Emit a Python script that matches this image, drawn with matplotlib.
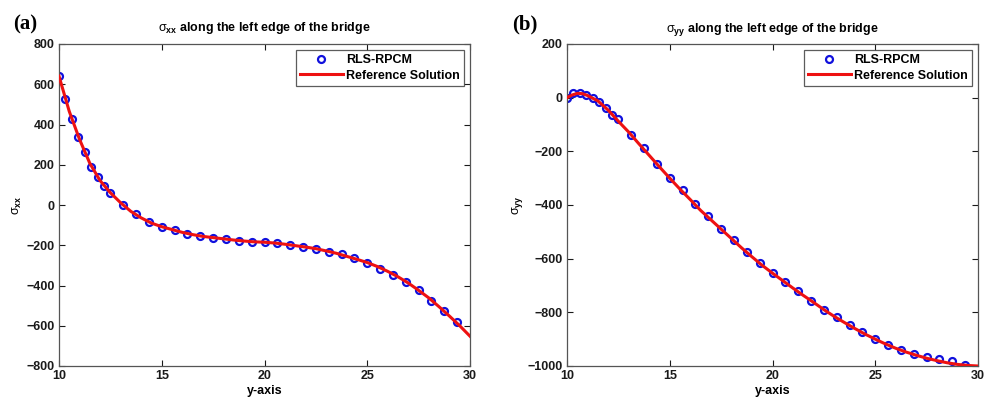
import matplotlib
matplotlib.use("Agg")
import matplotlib.pyplot as plt

plt.rcParams['font.family'] = ['Liberation Sans', 'DejaVu Sans']
plt.rcParams['mathtext.fontset'] = 'custom'
plt.rcParams['mathtext.rm'] = 'Liberation Sans'
plt.rcParams['mathtext.bf'] = 'Liberation Sans:bold'
plt.rcParams['mathtext.it'] = 'Liberation Sans:italic'

# ---- data: panel (a) sigma_xx ----
xa_pts = [10.0, 10.3125, 10.625, 10.9375, 11.25, 11.5625, 11.875, 12.1875, 12.5,
          13.125, 13.75, 14.375, 15.0, 15.625, 16.25, 16.875, 17.5, 18.125, 18.75,
          19.375, 20.0, 20.625, 21.25, 21.875, 22.5, 23.125, 23.75, 24.375, 25.0,
          25.625, 26.25, 26.875, 27.5, 28.125, 28.75, 29.375]
sxx_pts = [639, 528, 425, 339, 261, 191, 138, 94, 61,
           0, -46, -82, -108, -126, -142, -152, -162, -170, -178,
           -182, -185, -190, -200, -208, -217, -232, -245, -265, -286,
           -316, -346, -382, -424, -475, -528, -581]
xa_ref = [10, 10.5, 11, 11.5, 12, 12.5, 13, 13.5, 14, 14.5, 15, 15.5, 16, 16.5,
          17, 17.5, 18, 18.5, 19, 19.5, 20, 20.5, 21, 21.5, 22, 22.5, 23, 23.5,
          24, 24.5, 25, 25.5, 26, 26.5, 27, 27.5, 28, 28.5, 29, 29.5, 30]
sxx_ref = [640, 465, 326, 207, 121, 61, 11, -32, -64, -90, -108, -122, -136, -147,
           -156, -162, -168, -174, -179, -183, -185, -189, -195, -202, -209, -217, -228, -240,
           -255, -270, -286, -306, -330, -357, -388, -424, -462, -506, -552, -600, -652]

# ---- data: panel (b) sigma_yy ----
xb_pts = xa_pts
syy_pts = [0, 16, 19, 9, -1, -15, -37, -65, -78,
           -140, -189, -248, -298, -344, -396, -441, -490, -531, -577,
           -617, -652, -687, -722, -757, -790, -818, -848, -875, -898,
           -922, -939, -956, -968, -975, -983, -998]
xb_ref = [10, 10.25, 10.5, 10.75, 11, 11.5, 12, 12.5, 13, 13.5, 14, 14.5, 15, 15.5,
          16, 16.5, 17, 17.5, 18, 18.5, 19, 19.5, 20, 20.5, 21, 21.5, 22, 22.5,
          23, 23.5, 24, 24.5, 25, 25.5, 26, 26.5, 27, 27.5, 28, 28.5, 29, 29.5, 30]
syy_ref = [0, 10, 16, 15, 8, -12, -46, -88, -128, -172, -215, -258, -300, -341,
           -380, -420, -455, -490, -525, -560, -593, -625, -654, -682, -710, -737, -763, -790,
           -815, -838, -860, -881, -900, -918, -934, -948, -960, -971, -980, -988, -994, -998, -1000]

fig = plt.figure(figsize=(9.85, 4.0), dpi=100)
W, H = 985, 400

def make_ax(left_px, right_px, top_px, bottom_px):
    return fig.add_axes([left_px / W, (H - bottom_px) / H,
                         (right_px - left_px) / W, (bottom_px - top_px) / H])

axa = make_ax(59, 470, 44, 366)
axb = make_ax(567, 978, 44, 366)

def style(ax, ylim, yticks, title, ylabel):
    ax.set_xlim(10, 30)
    ax.set_ylim(*ylim)
    ax.set_xticks([10, 15, 20, 25, 30])
    ax.set_yticks(yticks)
    ax.tick_params(direction='in', top=True, right=True, length=4, width=0.8,
                   labelsize=9, pad=3, colors='#1a1a1a')
    for lab in ax.get_xticklabels() + ax.get_yticklabels():
        lab.set_fontweight('bold')
    for sp in ax.spines.values():
        sp.set_color('#555555')
        sp.set_linewidth(0.9)
    ax.set_title(title, fontsize=9, fontweight='bold', pad=9)
    ax.set_xlabel('y-axis', fontsize=9, fontweight='bold', labelpad=2)
    ax.set_ylabel(ylabel, fontsize=9, fontweight='bold', labelpad=2)
    leg = ax.legend(loc='upper right', fontsize=9, frameon=True, fancybox=False,
                    edgecolor='#333333', borderpad=0.3, labelspacing=0.3,
                    handlelength=3.4, handletextpad=0.3, borderaxespad=0.5)
    leg.get_frame().set_linewidth(0.9)
    for t in leg.get_texts():
        t.set_fontweight('bold')

for ax, xp, yp, xr, yr in [(axa, xa_pts, sxx_pts, xa_ref, sxx_ref),
                           (axb, xb_pts, syy_pts, xb_ref, syy_ref)]:
    ax.plot(xp, yp, 'o', mfc='none', mec='#1010dd', mew=1.6, ms=5,
            label='RLS-RPCM', zorder=2)
    ax.plot(xr, yr, '-', color='#ee1111', lw=2.2, label='Reference Solution', zorder=3)

style(axa, (-800, 800), range(-800, 801, 200),
      r'$\mathrm{\sigma}_{\mathbf{xx}}$ along the left edge of the bridge',
      r'$\mathrm{\sigma}_{\mathbf{xx}}$')
style(axb, (-1000, 200), range(-1000, 201, 200),
      r'$\mathrm{\sigma}_{\mathbf{yy}}$ along the left edge of the bridge',
      r'$\mathrm{\sigma}_{\mathbf{yy}}$')

fig.text(13 / W, 1 - 24 / H, '(a)', family=['Liberation Serif', 'DejaVu Serif'],
         fontweight='bold', fontsize=15, va='center', ha='left')
fig.text(512 / W, 1 - 24 / H, '(b)', family=['Liberation Serif', 'DejaVu Serif'],
         fontweight='bold', fontsize=15, va='center', ha='left')

fig.savefig('out.png', dpi=100)
